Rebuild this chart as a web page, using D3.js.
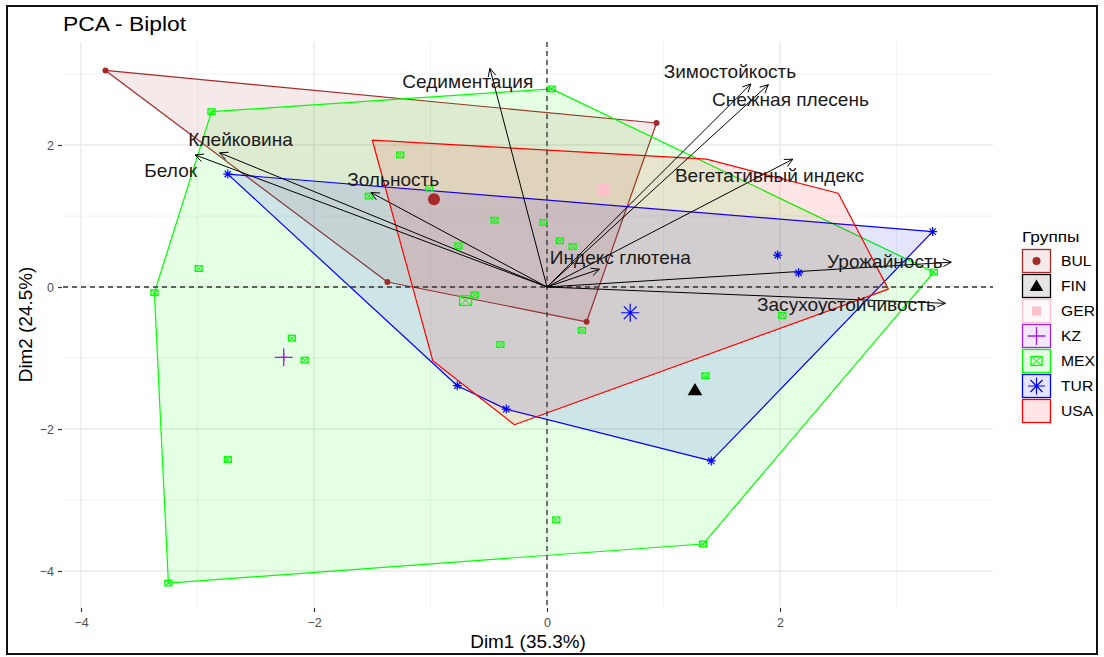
<!DOCTYPE html>
<html>
<head>
<meta charset="utf-8">
<script src="https://cdn.jsdelivr.net/npm/d3@7/dist/d3.min.js"></script>
<style>
  body { margin: 0; background: #fff; font-family: "Liberation Sans", Arial, sans-serif; }
</style>
</head>
<body>
<script>
// groups, colours and point shapes (ggplot default shape palette, 7th group gets none)
var groups = ["BUL", "FIN", "GER", "KZ", "MEX", "TUR", "USA"];
var groupColors = ["#A52A2A", "#000000", "#FFC0CB", "#A020F0", "#00FF00", "#0000FF", "#FF0000"];
var groupShapes = ["circle", "triangle", "square", "plus", "boxcross", "asterisk", null];

// individuals, [Dim1, Dim2]
var indBUL = [[-3.79, 3.05], [0.94, 2.31], [0.34, -0.49], [-1.37, 0.07]];
var indFIN = [[1.27, -1.45]];
var indGER = [[0.49, 1.38]];
var indKZ = [[-2.26, -0.99]];
var indMEX = [[-2.88, 2.47], [0.04, 2.79], [3.32, 0.21], [1.34, -3.62], [-3.25, -4.17],
  [-3.37, -0.08], [-2.99, 0.26], [-2.19, -0.72], [-2.08, -1.03], [-1.53, 1.28],
  [-1.01, 1.39], [-1.26, 1.86], [-0.45, 0.94], [-0.03, 0.91], [0.11, 0.65],
  [0.22, 0.57], [-0.76, 0.58], [-0.62, -0.11], [-0.40, -0.81], [0.30, -0.61],
  [2.02, -0.40], [1.36, -1.25], [-2.74, -2.43], [0.08, -3.28]];
var indTUR = [[-2.74, 1.59], [3.31, 0.78], [1.98, 0.45], [2.16, 0.20], [1.41, -2.45],
  [-0.35, -1.72], [-0.77, -1.39]];
var indUSA = [[-1.50, 2.07], [1.37, 1.80], [2.50, 1.32], [2.93, -0.03], [-0.28, -1.94], [-0.98, -1.04]];
var individuals = [indBUL, indFIN, indGER, indKZ, indMEX, indTUR, indUSA];

// variables (arrow tips, scaled)
var varNames = ["Седиментация", "Зимостойкость", "Снежная плесень", "Вегетативный индекс",
  "Клейковина", "Белок", "Зольность", "Индекс глютена", "Урожайность", "Засухоустойчивость"];
var varX = [-0.49, 1.75, 1.90, 2.11, -2.81, -3.02, -1.51, 0.45, 3.47, 3.42];
var varY = [3.08, 2.86, 2.85, 1.80, 1.89, 1.86, 1.33, 0.25, 0.35, -0.23];
// label centres (repelled)
var labelX = [-0.68, 1.57, 2.09, 1.91, -2.63, -3.23, -1.32, 0.63, 2.90, 2.57];
var labelY = [2.89, 3.03, 2.63, 1.56, 2.07, 1.63, 1.51, 0.41, 0.35, -0.25];

var xTicks = [-4, -2, 0, 2];
var yTicks = [-4, -2, 0, 2];
var xMinor = [-3, -1, 1, 3];
var yMinor = [-3, -1, 1, 3];

var width = 1104, height = 657;
var panel = {left: 63, right: 993, top: 42, bottom: 607};
var stretch = 1.12; // text in the picture is a bit wide

var svg = d3.select("body").append("svg")
  .attr("width", width)
  .attr("height", height);

var x = d3.scaleLinear().domain([-4, 2]).range([81, 780]);
var y = d3.scaleLinear().domain([-4, 2]).range([571, 145]);

// put a text at (tx,ty), stretched horizontally
function wideText(g, tx, ty, str, size, sx, extra){
  var t = g.append("text")
    .attr("transform", "translate(" + tx + "," + ty + ")" + (extra || "") + " scale(" + sx + ",1)")
    .style("font-size", size + "px")
    .attr("fill", "#000")
    .text(str);
  return t;
}

// frame round the picture
svg.append("rect")
  .attr("x", 7).attr("y", 6).attr("width", 1090).attr("height", 648)
  .attr("fill", "none").attr("stroke", "#111").attr("stroke-width", 2);

// grid
var grid = svg.append("g");
grid.selectAll(".minx").data(xMinor).enter().append("line")
  .attr("x1", d => x(d)).attr("x2", d => x(d))
  .attr("y1", panel.top).attr("y2", panel.bottom)
  .attr("stroke", "#F2F2F2").attr("stroke-width", 1);
grid.selectAll(".miny").data(yMinor).enter().append("line")
  .attr("y1", d => y(d)).attr("y2", d => y(d))
  .attr("x1", panel.left).attr("x2", panel.right)
  .attr("stroke", "#F2F2F2").attr("stroke-width", 1);
grid.selectAll(".majx").data(xTicks).enter().append("line")
  .attr("x1", d => x(d)).attr("x2", d => x(d))
  .attr("y1", panel.top).attr("y2", panel.bottom)
  .attr("stroke", "#EBEBEB").attr("stroke-width", 1.5);
grid.selectAll(".majy").data(yTicks).enter().append("line")
  .attr("y1", d => y(d)).attr("y2", d => y(d))
  .attr("x1", panel.left).attr("x2", panel.right)
  .attr("stroke", "#EBEBEB").attr("stroke-width", 1.5);

// axes (ticks + labels, no domain line)
var xAxis = svg.append("g")
  .attr("transform", "translate(0," + (panel.bottom + 1) + ")")
  .call(d3.axisBottom(x).tickValues(xTicks).tickFormat(d3.format("d")).tickSize(4).tickPadding(6));
var yAxis = svg.append("g")
  .attr("transform", "translate(" + (panel.left - 1) + ",0)")
  .call(d3.axisLeft(y).tickValues(yTicks).tickFormat(d3.format("d")).tickSize(4).tickPadding(4));
[xAxis, yAxis].forEach(function(a){
  a.select(".domain").remove();
  a.selectAll("line").attr("stroke", "#333").attr("stroke-width", 1.2);
  a.selectAll("text").attr("fill", "#4D4D4D")
    .style("font-family", "Liberation Sans, Arial, sans-serif").style("font-size", "12.5px");
});

// hulls
var hullLayer = svg.append("g");
individuals.forEach(function(pts, i){
  if (pts.length < 3) return;
  var hull = d3.polygonHull(pts.map(p => [x(p[0]), y(p[1])]));
  hullLayer.append("path")
    .attr("d", "M" + hull.join("L") + "Z")
    .attr("fill", groupColors[i]).attr("fill-opacity", 0.1)
    .attr("stroke", groupColors[i]).attr("stroke-width", 1.2)
    .attr("stroke-linejoin", "round");
});

// reference lines
svg.append("line")
  .attr("x1", x(0)).attr("x2", x(0)).attr("y1", panel.top).attr("y2", panel.bottom)
  .attr("stroke", "#333").attr("stroke-width", 1.3).attr("stroke-dasharray", "5,4");
svg.append("line")
  .attr("y1", y(0)).attr("y2", y(0)).attr("x1", panel.left).attr("x2", panel.right)
  .attr("stroke", "#333").attr("stroke-width", 1.3).attr("stroke-dasharray", "5,4");

// draw one ggplot-like symbol
function symbol(g, shape, cx, cy, s, color){
  var h = s / 2;
  if (shape == "circle"){
    g.append("circle").attr("cx", cx).attr("cy", cy).attr("r", h).attr("fill", color);
  } else if (shape == "triangle"){
    g.append("path")
      .attr("d", "M" + cx + "," + (cy - h) + "L" + (cx + h * 1.05) + "," + (cy + h * 0.75) +
        "L" + (cx - h * 1.05) + "," + (cy + h * 0.75) + "Z")
      .attr("fill", color);
  } else if (shape == "square"){
    g.append("rect").attr("x", cx - h).attr("y", cy - h).attr("width", s).attr("height", s)
      .attr("fill", color);
  } else if (shape == "plus"){
    g.append("path").attr("d", "M" + (cx - h) + "," + cy + "H" + (cx + h) + "M" + cx + "," + (cy - h) + "V" + (cy + h))
      .attr("stroke", color).attr("stroke-width", 1.3).attr("fill", "none");
  } else if (shape == "boxcross"){
    var hh = h * 0.8;
    g.append("rect").attr("x", cx - h).attr("y", cy - hh).attr("width", s).attr("height", hh * 2)
      .attr("fill", "none").attr("stroke", color).attr("stroke-width", 1.3);
    g.append("path").attr("d", "M" + (cx - h) + "," + (cy - hh) + "L" + (cx + h) + "," + (cy + hh) +
        "M" + (cx + h) + "," + (cy - hh) + "L" + (cx - h) + "," + (cy + hh))
      .attr("stroke", color).attr("stroke-width", 1).attr("fill", "none");
  } else if (shape == "asterisk"){
    var d = h * 0.707;
    g.append("path").attr("d", "M" + (cx - h) + "," + cy + "H" + (cx + h) +
        "M" + cx + "," + (cy - h) + "V" + (cy + h) +
        "M" + (cx - d) + "," + (cy - d) + "L" + (cx + d) + "," + (cy + d) +
        "M" + (cx + d) + "," + (cy - d) + "L" + (cx - d) + "," + (cy + d))
      .attr("stroke", color).attr("stroke-width", 1.2).attr("fill", "none");
  }
}

var indSize = {circle: 6, triangle: 7, square: 6, plus: 8, boxcross: 7, asterisk: 9};
var meanSize = {circle: 12, triangle: 14, square: 12, plus: 18, boxcross: 12, asterisk: 18};

// individuals then group means
var pointLayer = svg.append("g");
individuals.forEach(function(pts, i){
  var shape = groupShapes[i];
  if (!shape) return;
  pts.forEach(function(p){
    symbol(pointLayer, shape, x(p[0]), y(p[1]), indSize[shape], groupColors[i]);
  });
  var mx = d3.mean(pts, p => p[0]), my = d3.mean(pts, p => p[1]);
  symbol(pointLayer, shape, x(mx), y(my), meanSize[shape], groupColors[i]);
});

// variable arrows
var arrows = svg.append("g");
varNames.forEach(function(name, i){
  var x0 = x(0), y0 = y(0), x1 = x(varX[i]), y1 = y(varY[i]);
  var ang = Math.atan2(y1 - y0, x1 - x0), len = 9, spread = 0.45;
  arrows.append("line")
    .attr("x1", x0).attr("y1", y0).attr("x2", x1).attr("y2", y1)
    .attr("stroke", "#000").attr("stroke-width", 1);
  arrows.append("path")
    .attr("d", "M" + (x1 - len * Math.cos(ang - spread)) + "," + (y1 - len * Math.sin(ang - spread)) +
      "L" + x1 + "," + y1 +
      "L" + (x1 - len * Math.cos(ang + spread)) + "," + (y1 - len * Math.sin(ang + spread)))
    .attr("stroke", "#000").attr("stroke-width", 1).attr("fill", "none");
});
var varLabels = svg.append("g");
varNames.forEach(function(name, i){
  wideText(varLabels, x(labelX[i]), y(labelY[i]), name, 17.5, 1.09)
    .attr("text-anchor", "middle")
    .attr("dominant-baseline", "central")
    .attr("fill", "#1A1A1A");
});

// title and axis titles
wideText(svg, 63, 31, "PCA - Biplot", 19.5, 1.17);
wideText(svg, (panel.left + panel.right) / 2, 648, "Dim1 (35.3%)", 17.5, 1.08)
  .attr("text-anchor", "middle");
wideText(svg, 32, (panel.top + panel.bottom) / 2, "Dim2 (24.5%)", 17.5, 1.08, " rotate(-90)")
  .attr("text-anchor", "middle");

// legend
var legend = svg.append("g").attr("transform", "translate(1022,0)");
wideText(legend, 0, 242, "Группы", 15, 1.15);
var keySymbol = {circle: 8, triangle: 13, square: 9, plus: 18, boxcross: 11, asterisk: 17};
groups.forEach(function(gname, i){
  var ky = 249 + i * 25;
  var key = legend.append("g");
  key.append("rect").attr("x", 0.5).attr("y", ky + 0.5).attr("width", 28).attr("height", 23)
    .attr("fill", groupColors[i]).attr("fill-opacity", 0.1)
    .attr("stroke", groupColors[i]).attr("stroke-width", 1.3);
  if (groupShapes[i]) symbol(key, groupShapes[i], 14.5, ky + 12, keySymbol[groupShapes[i]], groupColors[i]);
  wideText(key, 39, ky + 17, gname, 14, stretch);
});
</script>
</body>
</html>
